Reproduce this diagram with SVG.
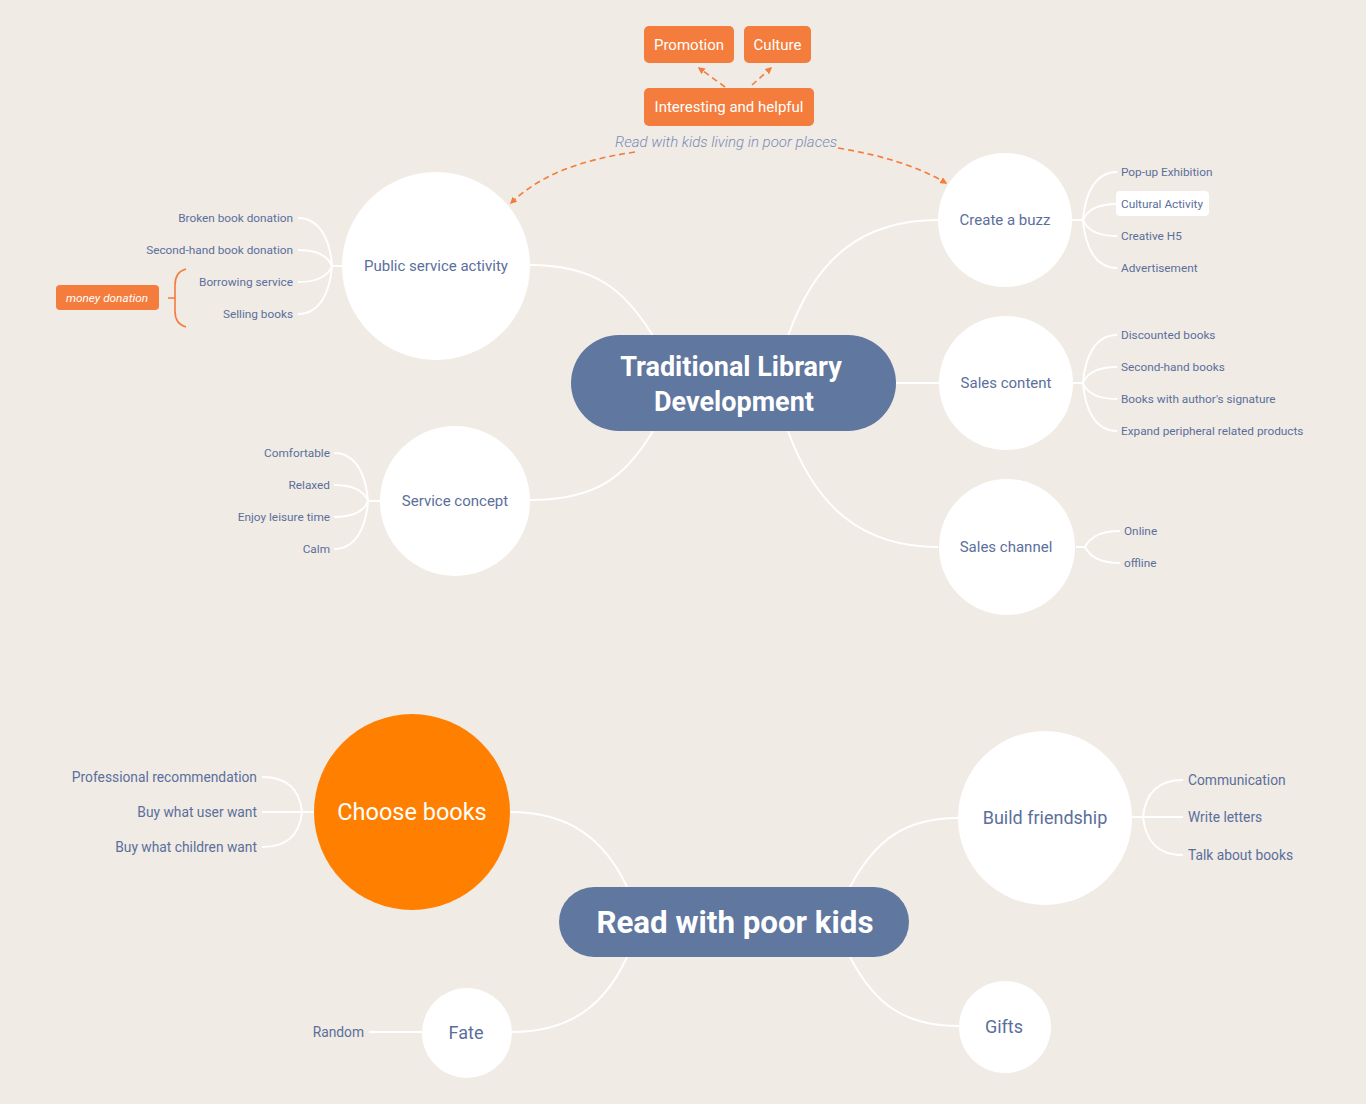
<svg xmlns="http://www.w3.org/2000/svg" width="1366" height="1104" viewBox="0 0 1366 1104">
<defs>
<style>
text{font-family:Roboto,"Liberation Sans",sans-serif}
.bg{fill:#f0ebe5}
.circ{fill:#ffffff}
.pill{fill:#60779f}
.title{fill:#ffffff;font-weight:bold;text-anchor:middle}
.ctext{fill:#5b6f9b;text-anchor:middle;dominant-baseline:central}
.leaf{fill:#5b6f9b;font-size:11.8px;dominant-baseline:central}
.leafb{fill:#5b6f9b;font-size:13.8px;dominant-baseline:central}
.r{text-anchor:end}
.line{fill:none;stroke:#ffffff;stroke-width:2}
.dash{fill:none;stroke:#f47c3c;stroke-width:1.6;stroke-dasharray:6 4}
.obox{fill:#f47c3c}
.otext{fill:#ffffff;font-size:15px;text-anchor:middle;dominant-baseline:central}
</style>
<marker id="arr" viewBox="0 0 10 10" refX="8" refY="5" markerWidth="7" markerHeight="7" orient="auto-start-reverse" markerUnits="userSpaceOnUse">
<path d="M0,0 L10,5 L0,10 z" fill="#f47c3c"/>
</marker>
</defs>
<rect class="bg" x="0" y="0" width="1366" height="1104"/>

<g id="connectors">
<path class="line" d="M530,265 C595,265 625,290 653,336"/>
<path class="line" d="M530,500 C595,500 625,478 653,431"/>
<path class="line" d="M788,336 C815,260 860,220 938,220"/>
<path class="line" d="M896,383 L939,383"/>
<path class="line" d="M788,431 C815,505 860,547 938,547"/>
<path class="line" d="M342,266 L332,266"/>
<path class="line" d="M298,218 C320,218 330,240 332,266"/>
<path class="line" d="M298,250 C318,250 328,256 332,266"/>
<path class="line" d="M298,282 C318,282 328,276 332,266"/>
<path class="line" d="M298,314 C320,314 330,292 332,266"/>
<path class="line" d="M380,501 L368,501"/>
<path class="line" d="M334,453 C356,453 366,475 368,501"/>
<path class="line" d="M334,485 C354,485 364,491 368,501"/>
<path class="line" d="M334,517 C354,517 364,511 368,501"/>
<path class="line" d="M334,549 C356,549 366,527 368,501"/>
<path class="line" d="M1072,220 L1083,220"/>
<path class="line" d="M1117,172 C1095,172 1085,194 1083,220"/>
<path class="line" d="M1117,204 C1097,204 1087,210 1083,220"/>
<path class="line" d="M1117,236 C1097,236 1087,230 1083,220"/>
<path class="line" d="M1117,268 C1095,268 1085,246 1083,220"/>
<path class="line" d="M1073,383 L1083,383"/>
<path class="line" d="M1117,335 C1095,335 1085,357 1083,383"/>
<path class="line" d="M1117,367 C1097,367 1087,373 1083,383"/>
<path class="line" d="M1117,399 C1097,399 1087,393 1083,383"/>
<path class="line" d="M1117,431 C1095,431 1085,409 1083,383"/>
<path class="line" d="M1076,547 L1085,547"/>
<path class="line" d="M1120,531 C1100,531 1090,537 1085,547"/>
<path class="line" d="M1120,563 C1100,563 1090,557 1085,547"/>
<path class="line" d="M510,812 C570,812 605,840 627,887"/>
<path class="line" d="M627,957 C605,1005 570,1032 512,1032"/>
<path class="line" d="M850,887 C875,840 905,818 958,818"/>
<path class="line" d="M850,957 C875,1005 905,1026 959,1026"/>
<path class="line" d="M314,812 L262,812"/>
<path class="line" d="M262,777 C290,777 300,792 302,812"/>
<path class="line" d="M262,847 C290,847 300,832 302,812"/>
<path class="line" d="M1132,817 L1183,817"/>
<path class="line" d="M1183,780 C1155,780 1145,797 1143,817"/>
<path class="line" d="M1183,855 C1155,855 1145,837 1143,817"/>
<path class="line" d="M369,1032 L422,1032"/>
<path d="M186,269 Q175,272 175,285 L175,311 Q175,324 186,327 M168,298 L175,298" fill="none" stroke="#f47c3c" stroke-width="1.6"/>
<path class="dash" d="M725,87 L699,68" marker-end="url(#arr)"/>
<path class="dash" d="M752,85 L771,68" marker-end="url(#arr)"/>
<path class="dash" d="M635,152 C580,160 540,175 511,203" marker-end="url(#arr)"/>
<path class="dash" d="M838,148 C880,155 915,165 946,183" marker-end="url(#arr)"/>
</g>

<g id="node-traditional">
<rect class="pill" x="571" y="335" width="325" height="96" rx="48"/>
<text class="title" x="731" y="376" font-size="27">Traditional Library</text>
<text class="title" x="734" y="411" font-size="27">Development</text>
</g>
<g id="node-public">
<circle class="circ" cx="436" cy="266" r="94"/>
<text class="ctext" x="436" y="266" font-size="15">Public service activity</text>
</g>
<g id="node-service">
<circle class="circ" cx="455" cy="501" r="75"/>
<text class="ctext" x="455" y="501" font-size="15">Service concept</text>
</g>
<g id="node-buzz">
<circle class="circ" cx="1005" cy="220" r="67"/>
<text class="ctext" x="1005" y="220" font-size="15">Create a buzz</text>
</g>
<g id="node-salescontent">
<circle class="circ" cx="1006" cy="383" r="67"/>
<text class="ctext" x="1006" y="383" font-size="15">Sales content</text>
</g>
<g id="node-saleschannel">
<circle class="circ" cx="1007" cy="547" r="68"/>
<text class="ctext" x="1006" y="547" font-size="15">Sales channel</text>
</g>

<g id="leaves-public">
<text class="leaf r" x="293" y="218">Broken book donation</text>
<text class="leaf r" x="293" y="250">Second-hand book donation</text>
<text class="leaf r" x="293" y="282">Borrowing service</text>
<text class="leaf r" x="293" y="314">Selling books</text>
</g>
<g id="node-money">
<rect class="obox" x="56" y="285" width="103" height="25" rx="4"/>
<text x="107" y="298" font-size="11.8" font-style="italic" fill="#ffffff" text-anchor="middle" dominant-baseline="central">money donation</text>
</g>
<g id="leaves-service">
<text class="leaf r" x="330" y="453">Comfortable</text>
<text class="leaf r" x="330" y="485">Relaxed</text>
<text class="leaf r" x="330" y="517">Enjoy leisure time</text>
<text class="leaf r" x="330" y="549">Calm</text>
</g>
<g id="leaves-buzz">
<text class="leaf" x="1121" y="172">Pop-up Exhibition</text>
<rect x="1116" y="191" width="93" height="25" rx="4" fill="#ffffff"/>
<text class="leaf" x="1121" y="204">Cultural Activity</text>
<text class="leaf" x="1121" y="236">Creative H5</text>
<text class="leaf" x="1121" y="268">Advertisement</text>
</g>
<g id="leaves-salescontent">
<text class="leaf" x="1121" y="335">Discounted books</text>
<text class="leaf" x="1121" y="367">Second-hand books</text>
<text class="leaf" x="1121" y="399">Books with author's signature</text>
<text class="leaf" x="1121" y="431">Expand peripheral related products</text>
</g>
<g id="leaves-saleschannel">
<text class="leaf" x="1124" y="531">Online</text>
<text class="leaf" x="1124" y="563">offline</text>
</g>

<g id="node-promotion">
<rect class="obox" x="644" y="26" width="90" height="37" rx="5"/>
<text class="otext" x="689" y="44.5">Promotion</text>
</g>
<g id="node-culture">
<rect class="obox" x="744" y="26" width="67" height="37" rx="5"/>
<text class="otext" x="777.5" y="44.5">Culture</text>
</g>
<g id="node-interesting">
<rect class="obox" x="644" y="88" width="170" height="38" rx="5"/>
<text class="otext" x="729" y="107">Interesting and helpful</text>
</g>
<g id="label-read">
<text x="726" y="142" font-size="15" font-style="italic" font-weight="300" fill="#7a8db5" text-anchor="middle" dominant-baseline="central">Read with kids living in poor places</text>
</g>

<g id="node-readpoor">
<rect class="pill" x="559" y="887" width="350" height="70" rx="35"/>
<text class="title" x="735" y="933" font-size="31.3">Read with poor kids</text>
</g>
<g id="node-choose">
<circle cx="412" cy="812" r="98" fill="#ff8000"/>
<text x="412" y="812" font-size="23.5" fill="#ffffff" text-anchor="middle" dominant-baseline="central">Choose books</text>
</g>
<g id="node-friendship">
<circle class="circ" cx="1045" cy="818" r="87"/>
<text class="ctext" x="1045" y="817" font-size="18">Build friendship</text>
</g>
<g id="node-fate">
<circle class="circ" cx="467" cy="1033" r="45"/>
<text class="ctext" x="466" y="1032" font-size="18">Fate</text>
</g>
<g id="node-gifts">
<circle class="circ" cx="1005" cy="1027" r="46"/>
<text class="ctext" x="1004" y="1026" font-size="18">Gifts</text>
</g>
<g id="leaves-choose">
<text class="leafb r" x="257" y="777">Professional recommendation</text>
<text class="leafb r" x="257" y="812">Buy what user want</text>
<text class="leafb r" x="257" y="847">Buy what children want</text>
</g>
<g id="leaves-friendship">
<text class="leafb" x="1188" y="780">Communication</text>
<text class="leafb" x="1188" y="817">Write letters</text>
<text class="leafb" x="1188" y="855">Talk about books</text>
</g>
<g id="leaves-fate">
<text class="leafb r" x="364" y="1032">Random</text>
</g>
</svg>
